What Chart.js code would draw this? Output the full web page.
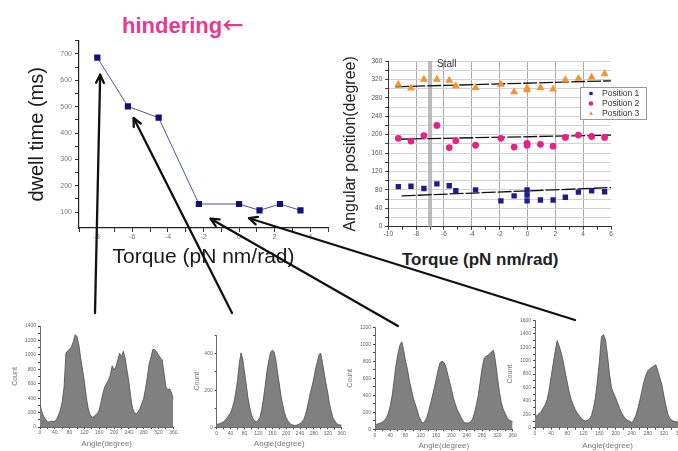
<!DOCTYPE html>
<html><head><meta charset="utf-8">
<script src="https://cdn.jsdelivr.net/npm/chart.js@4/dist/chart.umd.min.js"></script>
<style>
html,body{margin:0;padding:0;width:678px;height:451px;overflow:hidden;background:#fff;}
body{position:relative;font-family:"Liberation Sans",Arial,sans-serif;}
canvas{position:absolute;}
#hind{position:absolute;left:122px;top:9px;font-size:22px;font-weight:bold;color:#e8388f;white-space:nowrap;line-height:30px;}
#hind span{font-family:"Noto Sans CJK JP","DejaVu Sans",sans-serif;font-weight:bold;font-size:21px;}
#t2{position:absolute;left:402px;top:248px;font-size:17px;font-weight:bold;color:#222;white-space:nowrap;line-height:24px;}
</style></head><body>
<div id="hind">hindering<span>←</span></div>
<div id="t2">Torque (pN nm/rad)</div>
<canvas id="c1" style="left:0;top:0" width="340" height="280"></canvas>
<canvas id="c2" style="left:330px;top:40px" width="348" height="200"></canvas>
<canvas id="h1" style="left:0;top:315px" width="185" height="136"></canvas>
<canvas id="h2" style="left:185px;top:315px" width="170" height="136"></canvas>
<canvas id="h3" style="left:340px;top:315px" width="185" height="136"></canvas>
<canvas id="h4" style="left:500px;top:310px" width="190" height="141"></canvas>
<canvas id="ov" style="left:0;top:0" width="678" height="451"></canvas>
<script>
// ---------- data ----------
const dwellTorque = [-7.97, -6.25, -4.52, -2.26, 0.0, 1.15, 2.3, 3.45];
const dwellTime   = [686, 501, 458, 131, 131, 107, 131, 107];

const torque1 = [-9.28,-8.37,-7.44,-6.51,-5.62,-5.15,-3.73,-1.91,-0.96,-0.03,-0.03,-0.03,0.93,1.84,2.72,3.66,4.61,5.54];
const position1 = [87,88,83,93,89,78,80,56,67,80,69,56,58,58,64,75,78,76];
const torque2 = [-9.28,-8.37,-7.44,-6.51,-5.62,-5.15,-3.73,-1.91,-0.96,-0.03,-0.03,0.93,1.84,2.72,3.66,4.61,5.54];
const position2 = [192,186,198,220,172,187,177,192,173,181,177,179,175,194,199,196,194];
const torque3 = [-9.28,-8.37,-7.44,-6.51,-5.62,-5.15,-3.73,-1.91,-0.96,-0.03,-0.03,0.93,1.84,2.72,3.66,4.61,5.54];
const position3 = [309,301,320,320,318,306,302,309,293,301,297,302,299,319,322,325,332];
const fitTorque1 = [-9.04, 6.0], fitValue1 = [67, 85];
const fitTorque2 = [-9.5, 6.0],  fitValue2 = [190, 199];
const fitTorque3 = [-9.5, 6.0],  fitValue3 = [304, 317];
const stallTorque = -7;
const seriesNames = ['Position 1','Position 2','Position 3'];

const histAngle = [0,5,10,15,20,25,30,35,40,45,50,55,60,65,70,75,80,85,90,95,100,105,110,115,120,125,130,135,140,145,150,155,160,165,170,175,180,185,190,195,200,205,210,215,220,225,230,235,240,245,250,255,260,265,270,275,280,285,290,295,300,305,310,315,320,325,330,335,340,345,350,355,360];
const hist1 = [305,213,143,106,74,69,83,74,83,106,166,236,351,559,1021,1058,1077,1114,1183,1280,1252,1137,952,790,628,420,259,176,134,143,166,189,236,351,467,559,605,652,721,850,790,836,929,1021,975,1050,952,790,628,420,259,199,180,213,259,328,397,536,698,883,975,1080,1070,1044,998,960,929,744,559,513,530,480,374];
const hist2 = [16,18,20,25,30,40,52,65,80,105,140,190,255,345,403,370,300,235,160,110,70,45,35,30,40,55,100,160,230,310,360,405,418,410,370,300,240,170,125,80,52,35,22,15,12,10,12,15,20,28,40,65,100,145,190,225,270,320,355,395,400,345,290,235,185,125,85,50,35,22,15,12,12];
const hist3 = [55,60,68,75,90,105,140,190,280,400,580,760,890,990,1030,930,800,700,570,470,370,300,230,150,100,70,95,130,210,300,390,490,590,700,785,800,790,740,650,560,470,370,295,230,190,140,100,75,75,75,85,120,190,290,400,560,720,830,860,870,890,915,930,800,620,450,320,240,190,140,110,100,90];
const hist4 = [170,180,210,240,290,340,420,560,760,950,1140,1300,1220,1120,990,830,680,530,420,340,270,220,180,140,115,100,110,130,180,290,450,700,1000,1360,1390,1310,1080,800,590,520,450,370,290,220,170,135,110,95,80,110,180,280,400,540,680,780,850,880,900,920,940,850,740,640,480,330,200,140,110,95,90,85,80];

// arrow annotations: tips in dwell-chart data units, tails in page pixels
const arrowTips = [[-7.81,621],[-5.93,457],[-1.6,75],[0.56,77]];
const arrowTails = [[95,313],[232,313],[398,326],[575,320]];

// ---------- setup ----------
const FONT = '"Liberation Sans", Arial, sans-serif';
Chart.defaults.font.family = FONT;
Chart.defaults.animation = false;
Chart.defaults.responsive = false;
Chart.defaults.plugins.legend.display = false;
Chart.defaults.plugins.tooltip.enabled = false;

const pts = (xs, ys) => xs.map((x,i)=>({x, y: ys[i]}));

// ---------- chart 1: dwell time ----------
const ch1 = new Chart(document.getElementById('c1'), {
  type:'line',
  data:{datasets:[{data:pts(dwellTorque, dwellTime), borderColor:'#50509a', borderWidth:1,
    pointStyle:'rect', pointRadius:4.4, pointBackgroundColor:'#10107a', pointBorderColor:'#10107a', pointBorderWidth:0, tension:0}]},
  options:{
    layout:{padding:{top:40.7,right:12,left:0,bottom:0}},
    scales:{
      x:{type:'linear', min:-9, max:5,
        afterFit:s=>{s.height=52;},
        border:{color:'#222',width:1.2},
        grid:{drawOnChartArea:false,tickLength:4,tickColor:'#333'},
        ticks:{stepSize:1,autoSkip:false,maxRotation:0,padding:1,color:'#777',font:{size:7},
          callback:v=> (Math.round(v)%2===0? String(v):'')},
        title:{display:true,text:'Torque (pN nm/rad)',color:'#1a1a1a',font:{size:21},padding:{top:0,bottom:10.6}}},
      y:{type:'linear', min:40, max:750,
        afterBuildTicks:s=>{s.ticks = s.ticks.filter(t=>t.value%50===0);},
        afterFit:s=>{s.width=79;},
        border:{color:'#222',width:1.2},
        grid:{drawOnChartArea:false,tickLength:4,tickColor:'#333'},
        ticks:{stepSize:50,autoSkip:false,padding:3,color:'#777',font:{size:7},
          callback:v=> (v%100===0? String(v):'')},
        title:{display:true,text:'dwell time (ms)',color:'#1a1a1a',font:{size:20},padding:{top:25,bottom:0}}}
    }
  }
});

// ---------- chart 2: angular position ----------
const stallPlugin = {
  id:'stall',
  beforeDatasetsDraw(chart){
    const ctx = chart.ctx, x = chart.scales.x.getPixelForValue(stallTorque);
    const {top,bottom} = chart.chartArea;
    ctx.save();
    ctx.fillStyle = 'rgba(175,175,175,0.85)';
    ctx.fillRect(x-2, top, 4, bottom-top);
    ctx.fillStyle = '#333'; ctx.font = '10px '+FONT; ctx.textBaseline='middle';
    ctx.fillText('Stall', x+7, top+3);
    ctx.restore();
  }
};
const legendPlugin = {
  id:'boxlegend',
  afterDraw(chart){
    const ctx = chart.ctx;
    const bx = 250, by = 47, bw = 66, bh = 32; // box in canvas px
    ctx.save();
    ctx.fillStyle='#fff'; ctx.fillRect(bx,by,bw,bh);
    ctx.strokeStyle='#999'; ctx.lineWidth=1; ctx.strokeRect(bx+0.5,by+0.5,bw,bh);
    ctx.font='8.5px '+FONT; ctx.textBaseline='middle'; ctx.fillStyle='#333';
    [0,1,2].forEach(i=>{
      const ds = chart.data.datasets[i];
      const y = by + 6.5 + i*10;
      ctx.fillStyle = ds.pointBackgroundColor; ctx.strokeStyle = ds.pointBackgroundColor;
      Chart.helpers.drawPoint(ctx, {pointStyle:ds.pointStyle, radius:2.3, borderWidth:0}, bx+11, y);
      ctx.fillStyle='#333';
      ctx.fillText(seriesNames[i], bx+22, y+0.5);
    });
    ctx.restore();
  }
};
const fitStyle = {type:'line', borderColor:'#111', borderWidth:1.3, borderDash:[14,2], pointRadius:0, fill:false, tension:0};
new Chart(document.getElementById('c2'), {
  type:'scatter',
  data:{datasets:[
    {label:seriesNames[0], data:pts(torque1,position1), pointStyle:'rect', pointRadius:3.8, pointBackgroundColor:'#1c1c8e', pointBorderColor:'#1c1c8e', pointBorderWidth:0},
    {label:seriesNames[1], data:pts(torque2,position2), pointStyle:'circle', pointRadius:3.4, pointBackgroundColor:'#ea1f88', pointBorderColor:'#ea1f88', pointBorderWidth:0},
    {label:seriesNames[2], data:pts(torque3,position3), pointStyle:'triangle', pointRadius:4.6, pointBackgroundColor:'#f2952e', pointBorderColor:'#f2952e', pointBorderWidth:0},
    Object.assign({data:pts(fitTorque1,fitValue1), showLine:true}, fitStyle),
    Object.assign({data:pts(fitTorque2,fitValue2), showLine:true}, fitStyle),
    Object.assign({data:pts(fitTorque3,fitValue3), showLine:true}, fitStyle)
  ]},
  options:{
    layout:{padding:{top:21,right:67,left:0,bottom:0}},
    scales:{
      x:{type:'linear',min:-10,max:6,
        afterFit:s=>{s.height=13.3;},
        border:{color:'#333',width:1},
        grid:{drawOnChartArea:true,tickLength:3,tickColor:'#333',
          color:c=> (c.tick && Math.round(c.tick.value)%2===0 && c.tick.value>-10 && c.tick.value<6 ? '#a8a8a8':'rgba(0,0,0,0)')},
        ticks:{stepSize:1,autoSkip:false,maxRotation:0,padding:1,color:'#555',font:{size:6.5},
          callback:v=> (Math.round(v)%2===0? String(v):'')}},
      y:{type:'linear',min:0,max:360,
        afterFit:s=>{s.width=58.3;},
        border:{color:'#333',width:1},
        grid:{tickLength:3,tickColor:'#333',color:c=> (c.tick && c.tick.value>0 ? '#d2d2d2':'rgba(0,0,0,0)')},
        ticks:{stepSize:20,autoSkip:false,padding:3,color:'#555',font:{size:6.5},
          callback:v=> (v%40===0? String(v):'')},
        title:{display:true,text:'Angular position(degree)',color:'#222',font:{size:16},padding:{top:11,bottom:0}}}
    }
  },
  plugins:[stallPlugin, legendPlugin]
});

// ---------- histograms ----------
function makeHist(id, counts, ymax, cfg){
  return new Chart(document.getElementById(id), {
    type:'line',
    data:{datasets:[{data:pts(histAngle,counts), fill:'origin', backgroundColor:'#808080', borderColor:'#4d4d4d', borderWidth:0.8, pointRadius:0, tension:0}]},
    options:{
      layout:{padding:{top:cfg.pt,right:cfg.pr,left:0,bottom:0}},
      scales:{
        x:{type:'linear',min:0,max:360,
          afterFit:s=>{s.height=cfg.xh;},
          border:{color:'#444',width:0.8},
          grid:{drawOnChartArea:false,tickLength:2,tickColor:'#444'},
          ticks:{stepSize:20,autoSkip:false,maxRotation:0,padding:1,color:'#666',font:{size:5},
            callback:v=> (v%40===0? String(v):'')},
          title:{display:true,text:'Angle(degree)',color:'#777',font:{size:8},padding:{top:0,bottom:cfg.tb}}},
        y:{type:'linear',min:0,max:ymax,
          afterFit:s=>{s.width=cfg.yw;},
          border:{color:'#444',width:0.8},
          grid:{drawOnChartArea:false,tickLength:2,tickColor:'#444'},
          ticks:{stepSize:cfg.ys,autoSkip:false,padding:2,color:'#666',font:{size:5},
            callback:v=> (v%cfg.yl===0? String(v):'')},
          title:{display:true,text:'Count',color:'#777',font:{size:7},padding:{top:cfg.tl,bottom:0}}}
      }
    }
  });
}
makeHist('h1', hist1, 1400, {pt:11, pr:11.7, xh:24, yw:40, tb:2.9, tl:10.8, ys:100, yl:200});
makeHist('h2', hist2, 500,  {pt:20, pr:13.3, xh:23.7, yw:31.7, tb:2.9, tl:7.5, ys:100, yl:200});
makeHist('h3', hist3, 1200, {pt:12.3, pr:12.3, xh:21.7, yw:35, tb:0, tl:5.8, ys:100, yl:200});
makeHist('h4', hist4, 1600, {pt:10.5, pr:10, xh:23.3, yw:35, tb:0.5, tl:5.8, ys:100, yl:200});

// ---------- arrows overlay ----------
(function(){
  const ctx = document.getElementById('ov').getContext('2d');
  const sx = ch1.scales.x, sy = ch1.scales.y;
  ctx.strokeStyle = '#111'; ctx.lineWidth = 2.3; ctx.lineCap='round'; ctx.lineJoin='round';
  arrowTips.forEach((t,i)=>{
    const tx = sx.getPixelForValue(t[0]), ty = sy.getPixelForValue(t[1]);
    const [fx,fy] = arrowTails[i];
    ctx.beginPath(); ctx.moveTo(fx,fy); ctx.lineTo(tx,ty); ctx.stroke();
    const ang = Math.atan2(ty-fy, tx-fx), L = 9, a = 0.45;
    ctx.beginPath();
    ctx.moveTo(tx - L*Math.cos(ang-a), ty - L*Math.sin(ang-a));
    ctx.lineTo(tx,ty);
    ctx.lineTo(tx - L*Math.cos(ang+a), ty - L*Math.sin(ang+a));
    ctx.stroke();
  });
})();
</script>
</body></html>
